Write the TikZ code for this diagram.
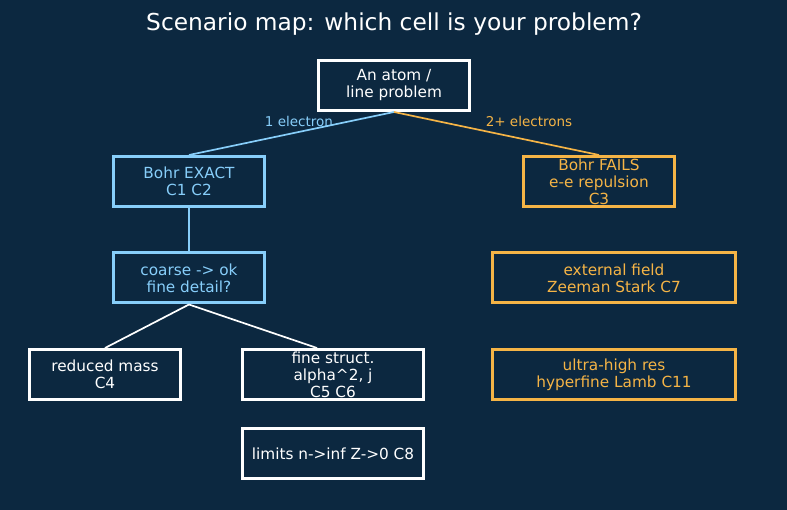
\documentclass[tikz,border=0pt]{standalone}
\usepackage{fontspec}
\setmainfont{DejaVu Sans}
\definecolor{bg}{RGB}{12,40,64}
\definecolor{lblue}{RGB}{135,206,250}
\definecolor{orng}{RGB}{245,180,70}
\begin{document}
\begin{tikzpicture}[x=1pt,y=-1pt,
  box/.style={draw,line width=3pt,fill=bg,align=center,inner sep=0pt,
    minimum height=50pt,font=\fontsize{15.3}{17}\selectfont},
  wbox/.style={box,draw=white,text=white},
  bbox/.style={box,draw=lblue,text=lblue},
  obox/.style={box,draw=orng,text=orng},
  link/.style={line width=1.7pt},
  lab/.style={font=\fontsize{13.5}{16}\selectfont}]
\fill[bg] (0,0) rectangle (787,510);
\useasboundingbox (0,0) rectangle (787,510);
\node[text=white,font=\fontsize{23.3}{27}\selectfont] (title) at (394,24) {Scenario map: which cell is your problem?};
\node[wbox,minimum width=151pt] (top) at (394,85.5) {An atom /\\line problem};
\node[bbox,minimum width=151pt] (exact) at (189,181.5) {Bohr EXACT\\C1 C2};
\node[obox,minimum width=151pt] (fails) at (599,181.5) {Bohr FAILS\\e-e repulsion\\C3};
\node[bbox,minimum width=151pt] (coarse) at (189,278) {coarse -> ok\\fine detail?};
\node[obox,minimum width=243pt] (ext) at (614,278) {external field\\Zeeman Stark C7};
\node[wbox,minimum width=151pt] (red) at (105,374.5) {reduced mass\\C4};
\node[wbox,minimum width=181pt] (fine) at (333,374.5) {fine struct.\\alpha\^{}2, j\\C5 C6};
\node[obox,minimum width=243pt] (ultra) at (614,374.5) {ultra-high res\\hyperfine Lamb C11};
\node[wbox,minimum width=181pt] (lim) at (333,453.5) {limits n->inf Z->0 C8};
\draw[link,lblue] (top.south) -- (exact.north);
\draw[link,orng] (top.south) -- (fails.north);
\draw[link,lblue] (exact.south) -- (coarse.north);
\draw[link,white] (coarse.south) -- (red.north);
\draw[link,white] (coarse.south) -- ([xshift=-16pt]fine.north);
\node[text=lblue,lab] (l1) at (299,121) {1 electron};
\node[text=orng,lab] (l2) at (529,121) {2+ electrons};
\end{tikzpicture}
\end{document}
